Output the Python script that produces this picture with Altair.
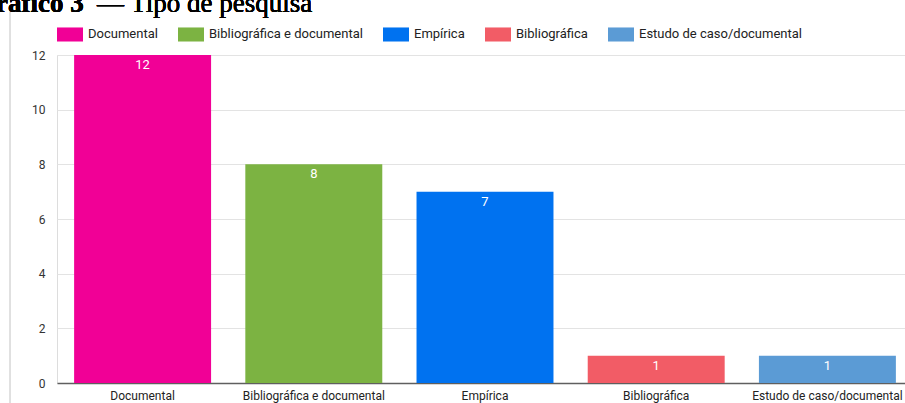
import altair as alt
import pandas as pd

# Research types and number of works of each type
categories = [
    "Documental",
    "Bibliográfica e documental",
    "Empírica",
    "Bibliográfica",
    "Estudo de caso/documental",
]
counts = [12, 8, 7, 1, 1]
colors = ["#f10096", "#7cb342", "#0072f0", "#f25c66", "#5b9bd5"]
y_ticks = list(range(0, 13))

title_bold = "Gráfico 3"
title_rest = "— Tipo de pesquisa"

df = pd.DataFrame({"tipo": categories, "n": counts})

W, H = 848, 328
FONT = "Roboto"

x_enc = alt.X(
    "tipo:N",
    sort=categories,
    scale=alt.Scale(range=[0, 856], paddingInner=0.2, paddingOuter=0.1),
    axis=alt.Axis(
        title=None,
        labelAngle=0,
        labelFont=FONT,
        labelFontSize=12,
        labelColor="#222222",
        labelPadding=7,
        labelLimit=300,
        ticks=False,
        domainColor="#5f5f5f",
        domainWidth=1.5,
        grid=False,
    ),
)
y_enc = alt.Y(
    "n:Q",
    scale=alt.Scale(domain=[0, 12], nice=False),
    axis=alt.Axis(
        title=None,
        values=y_ticks,
        labelExpr="datum.value % 2 == 0 ? datum.label : ''",
        labelFont=FONT,
        labelFontSize=12,
        labelColor="#333333",
        labelPadding=12,
        ticks=False,
        domain=False,
        gridColor="#e3e3e3",
        gridWidth=1,
    ),
)

bars = alt.Chart(df).mark_bar().encode(
    x=x_enc,
    y=y_enc,
    color=alt.Color(
        "tipo:N",
        sort=categories,
        scale=alt.Scale(domain=categories, range=colors),
        legend=alt.Legend(
            title=None,
            orient="none",
            legendX=0,
            legendY=-34,
            direction="horizontal",
            symbolType="M-1,-0.54H1V0.54H-1Z",
            symbolSize=676,
            symbolStrokeWidth=0,
            symbolOpacity=1,
            labelFont=FONT,
            labelFontSize=13,
            labelColor="#222222",
            labelOffset=5,
            columnPadding=20,
            labelLimit=300,
        ),
    ),
)

values = alt.Chart(df).mark_text(
    baseline="middle", dy=10, color="white", font=FONT, fontSize=13
).encode(
    x=alt.X("tipo:N", sort=categories),
    y="n:Q",
    text="n:Q",
)

# Frame line on the left edge of the chart card
frame = alt.Chart(df).mark_rule(color="#e0e0e0", strokeWidth=1).encode(
    x=alt.value(-47), y=alt.value(-46), y2=alt.value(H + 20)
)

title_a = alt.Chart(df).mark_text(
    text=title_bold, align="left", baseline="alphabetic",
    font="Liberation Serif", fontSize=27, fontWeight="bold", color="#000000",
).encode(x=alt.value(-82), y=alt.value(-43))

title_b = alt.Chart(df).mark_text(
    text=title_rest, align="left", baseline="alphabetic",
    font="Liberation Serif", fontSize=27, color="#000000",
).encode(x=alt.value(40), y=alt.value(-43))

chart = (
    alt.layer(frame, bars, values, title_a, title_b)
    .properties(
        width=W,
        height=H,
        autosize=alt.AutoSizeParams(type="none"),
        padding={"left": 57, "top": 55, "right": 0, "bottom": 20},
    )
    .configure_view(stroke=None)
    .configure(background="white")
)

chart.save("out.html", embed_options={"renderer": "svg", "actions": False})
